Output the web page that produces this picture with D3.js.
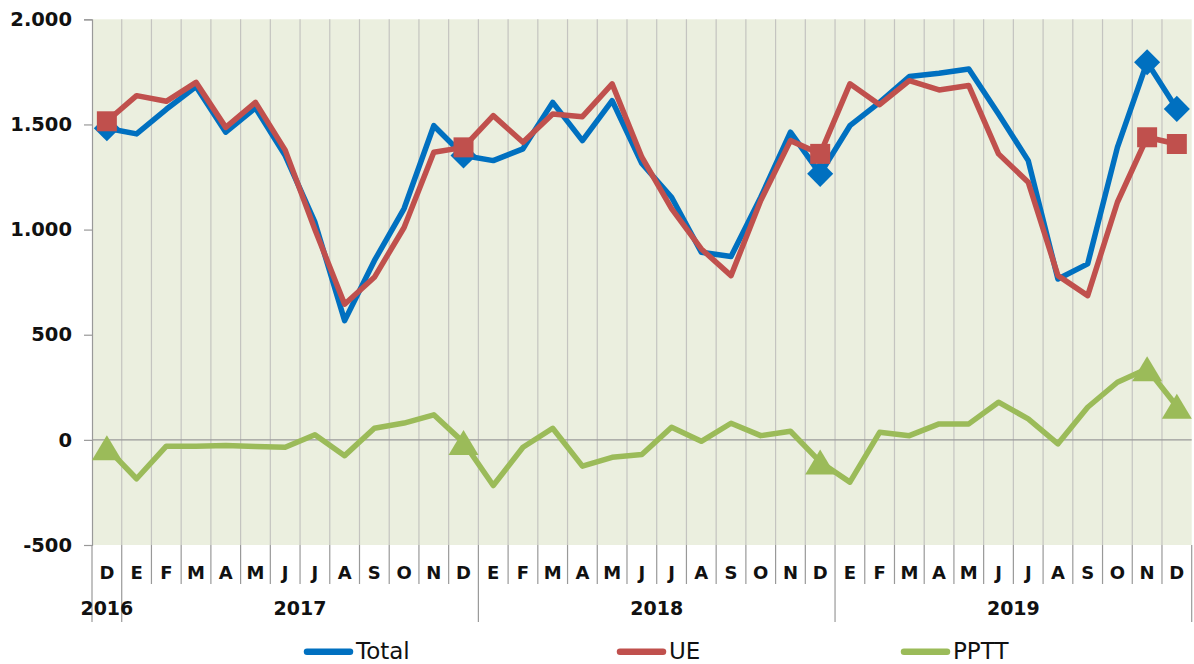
<!DOCTYPE html>
<html><head><meta charset="utf-8">
<script src="https://cdn.jsdelivr.net/npm/d3@7"></script>
<style>body{margin:0;background:#fff;}svg{display:block;}</style>
</head><body>
<svg id="c" width="1194" height="664"></svg>
<script>
const months = ["D","E","F","M","A","M","J","J","A","S","O","N","D","E","F","M","A","M","J","J","A","S","O","N","D","E","F","M","A","M","J","J","A","S","O","N","D"];
const years = [{label:"2016",from:0,to:0},{label:"2017",from:1,to:12},{label:"2018",from:13,to:24},{label:"2019",from:25,to:36}];
const total = [1482,1455,1572,1680,1463,1579,1352,1035,567,852,1100,1494,1352,1328,1384,1605,1423,1613,1314,1154,892,872,1154,1463,1265,1494,1605,1728,1743,1764,1550,1328,765,837,1391,1796,1574];
const ue    = [1515,1637,1610,1700,1486,1605,1378,1000,645,773,1010,1368,1391,1542,1415,1550,1537,1693,1344,1100,908,781,1138,1423,1360,1693,1594,1708,1664,1685,1360,1225,781,686,1130,1439,1407];
const pptt  = [-38,-185,-30,-30,-27,-32,-35,24,-75,55,80,119,-12,-217,-35,55,-125,-83,-70,60,-7,79,20,41,-105,-201,36,20,76,76,179,100,-19,155,274,338,160];
const yTicks = [-500,0,500,1000,1500,2000];
const markerIdx = [0,12,24,35,36];
const seriesNames = ["Total","UE","PPTT"];
const colors = ["#0070C0","#C0504D","#9BBB59"];

const svg = d3.select("#c");
const L = 92, R = 1191.7, T = 19.3, B = 545;
const x = d3.scaleBand().domain(d3.range(months.length)).range([L,R]).padding(0);
const y = d3.scaleLinear().domain([-500,2000]).range([B,T]);
const loc = d3.formatLocale({decimal:",",thousands:".",grouping:[3],currency:["","€"],minus:"-"});
const fmt = loc.format(",");
const font = "'DejaVu Sans', Verdana, sans-serif";

// plot background
svg.append("rect").attr("x",L).attr("y",T).attr("width",R-L).attr("height",B-T).attr("fill","#EBEFDF");

// vertical gridlines inside plot
svg.append("g").selectAll("line").data(d3.range(1,months.length)).join("line")
  .attr("x1",d=>x(d)).attr("x2",d=>x(d)).attr("y1",T).attr("y2",B)
  .attr("stroke","#c4c4c0").attr("stroke-width",1.2);

// zero line
svg.append("line").attr("x1",L).attr("x2",R).attr("y1",y(0)).attr("y2",y(0)).attr("stroke","#9a9a9a").attr("stroke-width",1.2);

// y axis
const ya = svg.append("g").attr("transform",`translate(${L},0)`)
  .call(d3.axisLeft(y).tickValues(yTicks).tickFormat(fmt).tickSize(8).tickPadding(12));
ya.select(".domain").attr("stroke","#999").attr("stroke-width",1.2);
ya.selectAll(".tick line").attr("stroke","#999").attr("stroke-width",1.2);
ya.selectAll("text").attr("font-family",font).attr("font-weight","bold").attr("font-size","19.5px").attr("fill","#111");

// category separators below plot
const yearStarts = new Set(years.map(d=>d.from));
svg.append("g").selectAll("line").data(d3.range(0,months.length+1)).join("line")
  .attr("x1",d=>d===months.length?R:x(d)).attr("x2",d=>d===months.length?R:x(d))
  .attr("y1",B).attr("y2",d=>(yearStarts.has(d)||d===months.length)?622:584)
  .attr("stroke","#999").attr("stroke-width",1.2);

// month labels
svg.append("g").selectAll("text").data(months).join("text")
  .attr("x",(d,i)=>x(i)+x.bandwidth()/2).attr("y",579)
  .attr("text-anchor","middle").attr("font-family",font).attr("font-weight","bold").attr("font-size","18px").attr("fill","#111")
  .text(d=>d);

// year labels
svg.append("g").selectAll("text").data(years).join("text")
  .attr("x",d=>(x(d.from)+x(d.to)+x.bandwidth())/2).attr("y",615)
  .attr("text-anchor","middle").attr("font-family",font).attr("font-weight","bold").attr("font-size","19px").attr("fill","#111")
  .text(d=>d.label);

// lines
const data = [total,ue,pptt];
const line = d3.line().x((d,i)=>x(i)+x.bandwidth()/2).y(d=>y(d));
const tri = "M0,-12.5L15,12.5L-15,12.5Z";
const sym = [
  d3.symbol().type(d3.symbolSquare).size(340)(),
  d3.symbol().type(d3.symbolSquare).size(400)(),
  tri
];
data.forEach((s,k)=>{
  svg.append("path").datum(s).attr("d",line).attr("fill","none").attr("stroke",colors[k])
    .attr("stroke-width",5.5).attr("stroke-linejoin","round");
  svg.append("g").selectAll("path").data(markerIdx).join("path")
    .attr("d",sym[k])
    .attr("transform",i=>`translate(${x(i)+x.bandwidth()/2},${y(s[i])})${k===0?" rotate(45)":""}`)
    .attr("fill",colors[k]);
});

// legend
const legX = [305,618,902];
seriesNames.forEach((n,k)=>{
  svg.append("line").attr("x1",legX[k]+2).attr("x2",legX[k]+45).attr("y1",651.7).attr("y2",651.7)
    .attr("stroke",colors[k]).attr("stroke-width",6.5).attr("stroke-linecap","round");
  svg.append("text").attr("x",legX[k]+51).attr("y",659.3).attr("font-family",font).attr("font-size","23px").attr("fill","#111").text(n);
});
</script>
</body></html>
